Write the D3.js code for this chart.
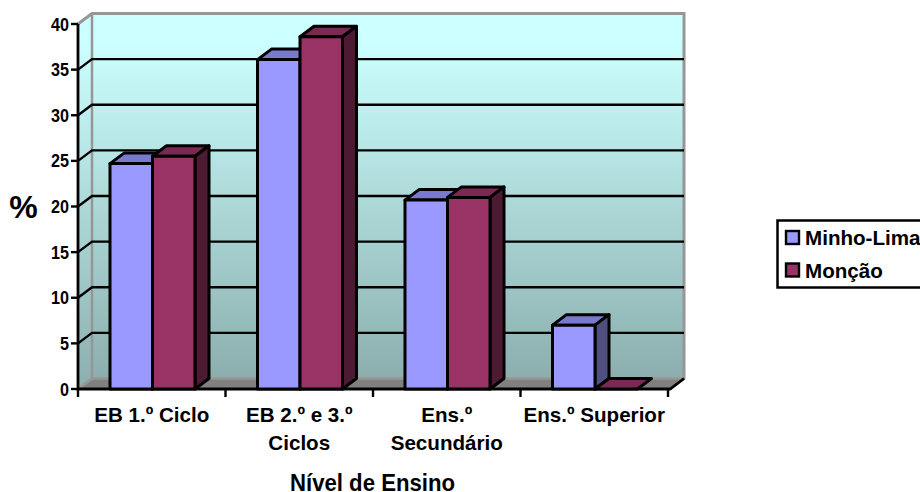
<!DOCTYPE html>
<html>
<head>
<meta charset="utf-8">
<script src="https://cdn.jsdelivr.net/npm/d3@7"></script>
<style>
body { margin: 0; background: #fff; overflow: hidden; }
svg { display: block; font-family: "Liberation Sans", Arial, sans-serif; font-weight: bold; }
</style>
</head>
<body>
<svg width="920" height="492"></svg>
<script>
var categories = [["EB 1.º Ciclo"], ["EB 2.º e 3.º", "Ciclos"], ["Ens.º", "Secundário"], ["Ens.º Superior"]];
var seriesNames = ["Minho-Lima", "Monção"];
var minhoLima = [24.7, 36.1, 20.7, 7];
var moncao = [25.5, 38.6, 21, 0];
var yTicks = [0, 5, 10, 15, 20, 25, 30, 35, 40];

var front = ["#9999FF", "#993366"],
    topFace = ["#7A7ACC", "#7A2952"],
    side = ["#50507F", "#4C1A33"];

var svg = d3.select("svg");
var dx = 14, dy = -10.5;

var x = d3.scaleBand().domain(d3.range(categories.length)).range([78, 668]);
var inner = d3.scaleBand().domain([0, 1]).range([32, 117]);
var y = d3.scaleLinear().domain([0, 40]).range([389, 24]);

var grad = svg.append("defs").append("linearGradient")
    .attr("id", "wall").attr("x1", 0).attr("x2", 0).attr("y1", 0).attr("y2", 1);
grad.append("stop").attr("offset", "0%").attr("stop-color", "#CCFFFF");
grad.append("stop").attr("offset", "8%").attr("stop-color", "#CCFFFF");
grad.append("stop").attr("offset", "100%").attr("stop-color", "#8CAEAE");

function pts(a) { return a.map(function (p) { return p.join(","); }).join(" "); }

var x0 = 78, x1 = 670, y0 = y(0), y40 = y(40);

// walls and floor
svg.append("polygon").attr("points", pts([[x0, y40], [x0 + dx, y40 + dy], [x0 + dx, y0 + dy], [x0, y0]]))
    .attr("fill", "url(#wall)");
svg.append("rect").attr("x", x0 + dx).attr("y", y40 + dy).attr("width", x1 - x0).attr("height", y0 - y40)
    .attr("fill", "url(#wall)");
svg.append("polygon").attr("points", pts([[x0, y0], [x0 + dx, y0 + dy], [x1 + dx, y0 + dy], [x1, y0]]))
    .attr("fill", "#808080");

// wall edges
svg.append("path")
    .attr("d", "M" + x0 + "," + y40 + "L" + (x0 + dx) + "," + (y40 + dy) + "H" + (x1 + dx) + "V" + (y0 + dy) +
        "L" + x1 + "," + y0)
    .attr("fill", "none").attr("stroke", "#969696").attr("stroke-width", 3);
svg.append("path")
    .attr("d", "M" + (x0 + dx) + "," + (y40 + dy) + "V" + (y0 + dy) + "L" + x0 + "," + y0 + "M" + (x0 + dx) + "," + (y0 + dy) + "H" + (x1 + dx))
    .attr("fill", "none").attr("stroke", "#969696").attr("stroke-width", 2.5);

// gridlines
svg.append("g").selectAll("path").data(yTicks.filter(function (d) { return d > 0 && d < 40; })).enter().append("path")
    .attr("d", function (d) { return "M" + x0 + "," + y(d) + "L" + (x0 + dx) + "," + (y(d) + dy) + "H" + (x1 + dx); })
    .attr("fill", "none").attr("stroke", "#000").attr("stroke-width", 2.4);

// axes
svg.append("path").attr("d", "M" + x0 + "," + y40 + "V" + y0 + "H" + x1 + "L" + (x1 + dx) + "," + (y0 + dy))
    .attr("fill", "none").attr("stroke", "#000").attr("stroke-width", 2.8);

var yAxis = svg.append("g").selectAll("g").data(yTicks).enter().append("g");
yAxis.append("line").attr("x1", x0 - 7).attr("x2", x0).attr("y1", function (d) { return y(d); }).attr("y2", function (d) { return y(d); })
    .attr("stroke", "#000").attr("stroke-width", 2.4);
yAxis.append("text").attr("x", x0 - 9).attr("y", function (d) { return y(d) + 6.5; }).attr("text-anchor", "end")
    .attr("font-size", 18)
    .attr("textLength", function (d) { return d < 10 ? 9 : 18; }).attr("lengthAdjust", "spacingAndGlyphs")
    .text(function (d) { return d; });

svg.append("g").selectAll("line").data(d3.range(categories.length + 1)).enter().append("line")
    .attr("x1", function (i) { return 78 + i * x.bandwidth(); }).attr("x2", function (i) { return 78 + i * x.bandwidth(); })
    .attr("y1", y0).attr("y2", y0 + 8).attr("stroke", "#000").attr("stroke-width", 2.4);

// bars, back to front
var values = [minhoLima, moncao];
categories.forEach(function (c, i) {
    [0, 1].forEach(function (s) {
        var v = values[s][i];
        var l = x(i) + inner(s), r = l + inner.bandwidth(), t = y(v), b = y(0);
        var g = svg.append("g").attr("stroke", "#000").attr("stroke-width", 3).attr("stroke-linejoin", "round");
        g.append("polygon").attr("points", pts([[l, t], [l + dx, t + dy], [r + dx, t + dy], [r, t]])).attr("fill", topFace[s]);
        if (v > 0) {
            g.append("polygon").attr("points", pts([[r, t], [r + dx, t + dy], [r + dx, b + dy], [r, b]])).attr("fill", side[s]);
            g.append("rect").attr("x", l).attr("y", t).attr("width", r - l).attr("height", b - t).attr("fill", front[s]);
        }
    });
});

// category labels
categories.forEach(function (lines, i) {
    var t = svg.append("text").attr("text-anchor", "middle").attr("font-size", 20.6);
    lines.forEach(function (line, k) {
        t.append("tspan").attr("x", x(i) + x.bandwidth() / 2).attr("y", 421.5 + k * 28).text(line);
    });
});

svg.append("text").attr("x", 372.5).attr("y", 491).attr("text-anchor", "middle").attr("font-size", 24.5)
    .attr("textLength", 165).attr("lengthAdjust", "spacingAndGlyphs").text("Nível de Ensino");
svg.append("text").attr("x", 23.5).attr("y", 218).attr("text-anchor", "middle").attr("font-size", 32).text("%");

// legend
svg.append("rect").attr("x", 777.5).attr("y", 220.5).attr("width", 160).attr("height", 67)
    .attr("fill", "#fff").attr("stroke", "#000").attr("stroke-width", 2.5);
var leg = svg.append("g").selectAll("g").data(seriesNames).enter().append("g");
leg.append("rect").attr("x", 786).attr("y", function (d, i) { return 231 + i * 32.5; }).attr("width", 13).attr("height", 13)
    .attr("fill", function (d, i) { return front[i]; }).attr("stroke", "#000").attr("stroke-width", 2.4);
leg.append("text").attr("x", 805).attr("y", function (d, i) { return 245 + i * 32.5; }).attr("font-size", 20.6).text(function (d) { return d; });
</script>
</body>
</html>
